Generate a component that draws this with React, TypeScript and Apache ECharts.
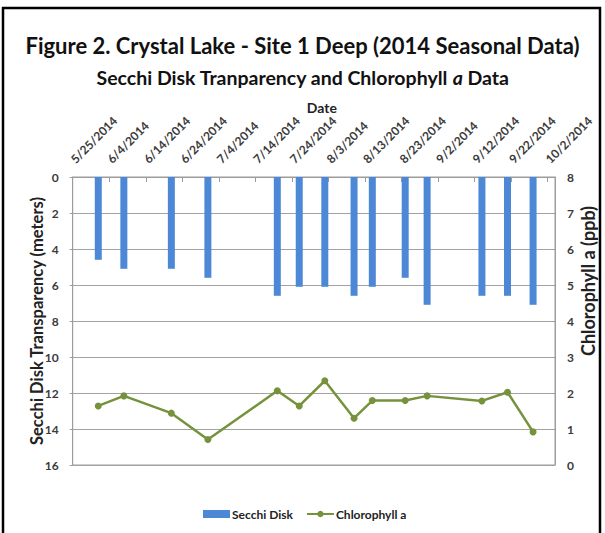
import React, { useEffect, useRef } from "react";
import * as echarts from "echarts";

// ---- data ----
const xTickLabels = [
  "5/25/2014", "6/4/2014", "6/14/2014", "6/24/2014", "7/4/2014", "7/14/2014", "7/24/2014",
  "8/3/2014", "8/13/2014", "8/23/2014", "9/2/2014", "9/12/2014", "9/22/2014", "10/2/2014",
];
const xAxisStart = "5/25/2014";
const xAxisEnd = "10/4/2014";
const sampleDates = [
  "6/1/2014", "6/8/2014", "6/21/2014", "7/1/2014", "7/20/2014", "7/26/2014", "8/2/2014",
  "8/10/2014", "8/15/2014", "8/24/2014", "8/30/2014", "9/14/2014", "9/21/2014", "9/28/2014",
];
const secchiDisk = [4.6, 5.1, 5.1, 5.6, 6.6, 6.1, 6.1, 6.6, 6.1, 5.6, 7.1, 6.6, 6.6, 7.1];
const chlorophyllA = [1.64, 1.92, 1.44, 0.71, 2.06, 1.64, 2.34, 1.3, 1.79, 1.79, 1.92, 1.78, 2.02, 0.92];
const leftAxisMin = 0;
const leftAxisMax = 16;
const leftAxisStep = 2;
const rightAxisMin = 0;
const rightAxisMax = 8;
const rightAxisStep = 1;

const toDay = (s: string) => {
  const [m, d, y] = s.split("/").map(Number);
  const [m0, d0, y0] = xAxisStart.split("/").map(Number);
  return Math.round((Date.UTC(y, m - 1, d) - Date.UTC(y0, m0 - 1, d0)) / 86400000);
};

const FONT = "Lato";
const AXIS_GRAY = "#9c9c9c";
const LABEL_COLOR = "#3b3b3b";

export default function App() {
  const ref = useRef<HTMLDivElement>(null);

  useEffect(() => {
    if (!ref.current) return;
    const chart = echarts.init(ref.current, null, { renderer: "svg" });
    const tickDays = xTickLabels.map(toDay);
    const labelByDay: Record<number, string> = {};
    xTickLabels.forEach((l) => (labelByDay[toDay(l)] = l));

    const option: any = {
      animation: false,
      backgroundColor: "#ffffff",
      title: [
        {
          text: "Figure 2. Crystal Lake - Site 1 Deep (2014 Seasonal Data)",
          left: "center",
          top: 29,
          textStyle: { fontFamily: FONT, fontWeight: "bold", fontSize: 22, color: "#111111" },
        },
        {
          text: "{n|Secchi Disk Tranparency and Chlorophyll }{i|a}{n| Data}",
          left: "center",
          top: 62,
          textStyle: {
            rich: {
              n: { fontFamily: FONT, fontWeight: "bold", fontSize: 19.5, color: "#111111" },
              i: { fontFamily: FONT, fontWeight: "bold", fontStyle: "italic", fontSize: 19.5, color: "#111111" },
            },
          },
        },
      ],
      graphic: [
        {
          type: "rect",
          silent: true,
          z: -10,
          shape: { x: 3, y: 8, width: 597, height: 560 },
          style: { fill: "none", stroke: "#000000", lineWidth: 2.5 },
        },
        {
          type: "text",
          x: 588,
          y: 281,
          rotation: Math.PI / 2,
          style: {
            text: "Chlorophyll a (ppb)",
            fontFamily: FONT,
            fontWeight: "bold",
            fontSize: 18,
            fill: "#222222",
            align: "center",
            verticalAlign: "middle",
          },
        },
      ],
      legend: {
        left: 198,
        top: 503,
        itemWidth: 27,
        itemHeight: 8,
        itemGap: 13,
        textStyle: { fontFamily: FONT, fontWeight: "bold", fontSize: 12, color: "#222222", padding: [0, 0, 0, -3] },
        data: [{ name: "Secchi Disk", icon: "rect" }, { name: "Chlorophyll a" }],
      },
      grid: {
        left: 72.7,
        right: 50,
        top: 177,
        bottom: 68,
        show: true,
        borderColor: AXIS_GRAY,
        borderWidth: 1,
        backgroundColor: "#ffffff",
      },
      xAxis: {
        type: "value",
        position: "top",
        min: 0,
        max: toDay(xAxisEnd),
        name: "Date",
        nameLocation: "middle",
        nameGap: 63,
        nameMoveOverlap: false,
        nameTextStyle: { fontFamily: FONT, fontWeight: "bold", fontSize: 14, color: "#222222", padding: [0, 0, 0, 16] },
        axisLine: { show: true, lineStyle: { color: AXIS_GRAY } },
        axisTick: { show: true, inside: true, length: 5, customValues: tickDays, lineStyle: { color: AXIS_GRAY } },
        axisLabel: {
          customValues: tickDays,
          rotate: 45,
          margin: 16,
          formatter: (v: number) => labelByDay[Math.round(v)] ?? "",
          fontFamily: FONT,
          fontWeight: "bold",
          fontSize: 12,
          color: LABEL_COLOR,
        },
        splitLine: { show: false },
      },
      yAxis: [
        {
          type: "value",
          position: "left",
          inverse: true,
          min: leftAxisMin,
          max: leftAxisMax,
          interval: leftAxisStep,
          name: "Secchi Disk Transparency (meters)",
          nameLocation: "middle",
          nameGap: 27,
          nameMoveOverlap: false,
          nameTextStyle: { fontFamily: FONT, fontWeight: "bold", fontSize: 16.5, color: "#222222" },
          axisLine: { show: true, lineStyle: { color: AXIS_GRAY } },
          axisTick: { show: true, length: 3, lineStyle: { color: AXIS_GRAY } },
          axisLabel: { margin: 14, fontFamily: FONT, fontWeight: "bold", fontSize: 12, color: LABEL_COLOR },
          splitLine: { show: true, lineStyle: { color: "#a2a2a2", width: 1 } },
        },
        {
          type: "value",
          position: "right",
          min: rightAxisMin,
          max: rightAxisMax,
          interval: rightAxisStep,
          axisLine: { show: true, lineStyle: { color: AXIS_GRAY } },
          axisTick: { show: true, inside: true, length: 4, lineStyle: { color: AXIS_GRAY } },
          axisLabel: { margin: 12, fontFamily: FONT, fontWeight: "bold", fontSize: 12, color: LABEL_COLOR },
          splitLine: { show: false },
        },
      ],
      series: [
        {
          name: "Secchi Disk",
          type: "bar",
          yAxisIndex: 0,
          barWidth: 7,
          itemStyle: { color: "#4d88d6" },
          data: sampleDates.map((d, i) => [toDay(d), secchiDisk[i]]),
        },
        {
          name: "Chlorophyll a",
          type: "line",
          yAxisIndex: 1,
          symbol: "circle",
          symbolSize: 7,
          itemStyle: { color: "#76923c" },
          lineStyle: { color: "#76923c", width: 2.5 },
          data: sampleDates.map((d, i) => [toDay(d), chlorophyllA[i]]),
        },
      ],
    };
    chart.setOption(option);
    return () => chart.dispose();
  }, []);

  return (
    <div
      ref={ref}
      style={{ position: "absolute", left: 0, top: 0, width: 605, height: 533 }}
    />
  );
}
